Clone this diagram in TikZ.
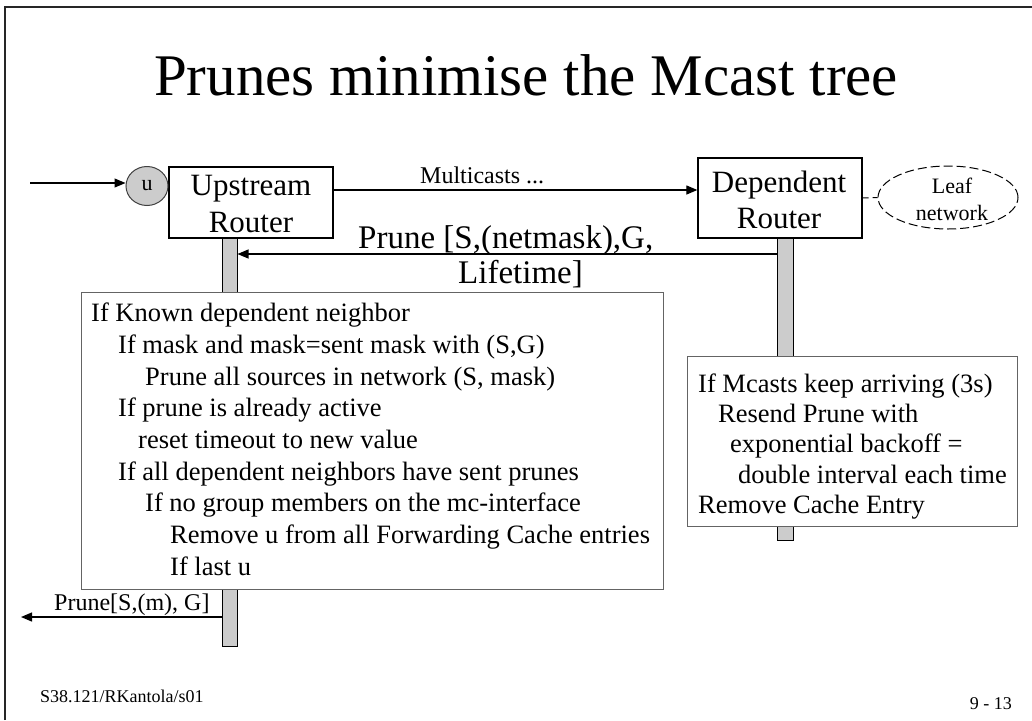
\documentclass[tikz,border=0pt]{standalone}
\usepackage{fontspec}
\setmainfont{Liberation Serif}
\usetikzlibrary{arrows.meta,shapes.geometric}
\definecolor{bargray}{RGB}{204,204,204}
\definecolor{boxedge}{RGB}{100,100,100}
\newcommand\setfs[1]{\fontsize{#1}{#1}\selectfont}
\begin{document}
\begin{tikzpicture}[x=1pt, y=-1pt,
  router/.style={draw, line width=1.3pt, fill=white, inner sep=0pt},
  note/.style={draw=boxedge, line width=1pt, fill=white, inner sep=0pt},
  lifeline/.style={draw, line width=1pt, fill=bargray, inner sep=0pt},
  msg/.style={line width=1.2pt, -{Triangle[length=11pt,width=9pt]}},
  txt/.style={anchor=base west, inner sep=0pt},
  ctxt/.style={anchor=base, inner sep=0pt},
  boxfont/.style={font=\setfs{31}},
  notefont/.style={font=\setfs{26.5}}]
\useasboundingbox (0,0) rectangle (1032,720);

% slide frame
\draw[line width=2.5pt, black!85] (5,720) -- (5,7) -- (1032,7);

% title
\node[ctxt, font=\setfs{59}] (title) at (526,95) {Prunes minimise the Mcast tree};

% lifelines (drawn first, the boxes cover them)
\node[lifeline, minimum width=15pt, minimum height=408pt] (lb) at (229.5,442) {};
\node[lifeline, minimum width=16pt, minimum height=302pt] (rb) at (785,389) {};

% routers
\node[router, minimum width=164pt, minimum height=71pt] (up) at (251,202.5) {};
\node[ctxt, boxfont] (upt1) at (251,195) {Upstream};
\node[ctxt, boxfont] (upt2) at (251,232) {Router};

\node[router, minimum width=164pt, minimum height=80pt] (dep) at (780,198) {};
\node[ctxt, boxfont] (dept1) at (779,192) {Dependent};
\node[ctxt, boxfont] (dept2) at (779,228) {Router};

% interface u
\node[ellipse, draw=black!75, fill=bargray, line width=1pt, inner sep=0pt,
      minimum width=42pt, minimum height=39pt, font=\setfs{22}] (u) at (147,186) {u};
\coordinate (src) at (30,183);
\draw[msg] (src) -- (src -| u.west);

% leaf network
\node[ellipse, draw, dash pattern=on 9pt off 4pt, line width=1pt, inner sep=0pt,
      minimum width=140pt, minimum height=63pt] (leaf) at (948,197.5) {};
\node[ctxt, font=\setfs{22}] (leaft1) at (952,193) {Leaf};
\node[ctxt, font=\setfs{22}] (leaft2) at (952,220) {network};
\draw[line width=1pt, dash pattern=on 6pt off 4pt] (dep.east) -- (leaf.west);

% multicast traffic
\coordinate (mrow) at (0,190);
\draw[msg] (up.east |- mrow) -- (dep.west |- mrow);
\node[txt, font=\setfs{24}] (mlabel) at (420,183) {Multicasts ...};

% prune message
\coordinate (prow) at (0,254);
\draw[msg] (rb.west |- prow) -- (lb.east |- prow);
\node[txt, font=\setfs{33}] (plabel1) at (358,248) {Prune [S,(netmask),G,};
\node[txt, font=\setfs{33}] (plabel2) at (458,283) {Lifetime]};

% upstream router processing
\node[note, minimum width=582pt, minimum height=297pt] (upbox) at (372,440.5) {};
\begin{scope}[every node/.style={txt, notefont}]
\node (l1) at (91,321)  {If Known dependent neighbor};
\node (l2) at (118,353) {If mask and mask=sent mask with (S,G)};
\node (l3) at (145,385) {Prune all sources in network (S, mask)};
\node (l4) at (118,416) {If prune is already active};
\node (l5) at (138,448) {reset timeout to new value};
\node (l6) at (118,480) {If all dependent neighbors have sent prunes};
\node (l7) at (145,511) {If no group members on the mc-interface};
\node (l8) at (170,543) {Remove u from all Forwarding Cache entries};
\node (l9) at (170,575) {If last u};
\end{scope}

% dependent router processing
\node[note, minimum width=330pt, minimum height=170pt] (depbox) at (852,441) {};
\begin{scope}[every node/.style={txt, notefont}]
\node (r1) at (698,392) {If Mcasts keep arriving (3s)};
\node (r2) at (718,422) {Resend Prune with};
\node (r3) at (730,452) {exponential backoff =};
\node (r4) at (738,483) {double interval each time};
\node (r5) at (698,513) {Remove Cache Entry};
\end{scope}

% prune forwarded further upstream
\coordinate (out) at (21,617);
\draw[msg] (lb.west |- out) -- (out);
\node[txt, font=\setfs{24}] (olabel) at (54,610) {Prune[S,(m), G]};

% footer
\node[txt, font=\setfs{18}] (foot) at (40,702) {S38.121/RKantola/s01};
\node[anchor=base east, inner sep=0pt, font=\setfs{18}] (page) at (1012,709) {9 - 13};
\end{tikzpicture}
\end{document}
